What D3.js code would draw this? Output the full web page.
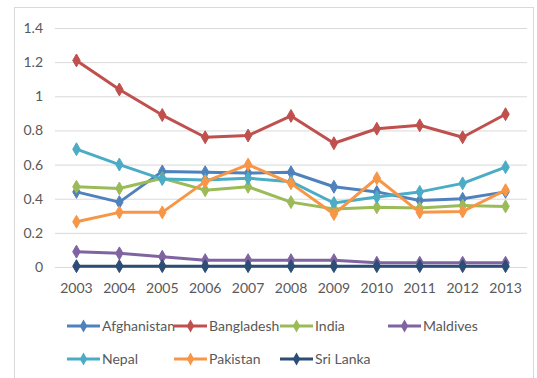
<!DOCTYPE html>
<html><head><meta charset="utf-8">
<script src="https://cdn.jsdelivr.net/npm/d3@7"></script>
<style>body{margin:0;background:#fff}svg{display:block}</style>
</head><body><svg id="c" width="537" height="378"></svg>
<script>
const years = ["2003","2004","2005","2006","2007","2008","2009","2010","2011","2012","2013"];
const seriesNames = ["Afghanistan","Bangladesh","India","Maldives","Nepal","Pakistan","Sri Lanka"];
const afghanistan = [0.44,0.38,0.56,0.555,0.55,0.555,0.47,0.44,0.39,0.40,0.44];
const bangladesh  = [1.21,1.04,0.89,0.76,0.77,0.885,0.725,0.81,0.83,0.76,0.895];
const india       = [0.47,0.46,0.52,0.45,0.47,0.38,0.34,0.35,0.345,0.36,0.355];
const maldives    = [0.09,0.08,0.06,0.04,0.04,0.04,0.04,0.025,0.025,0.025,0.025];
const nepal       = [0.69,0.60,0.515,0.51,0.52,0.50,0.375,0.41,0.44,0.49,0.585];
const pakistan    = [0.265,0.32,0.32,0.50,0.60,0.49,0.31,0.52,0.32,0.325,0.45];
const sriLanka    = [0.005,0.005,0.005,0.005,0.005,0.005,0.005,0.005,0.005,0.005,0.005];
const yTicks = [0,0.2,0.4,0.6,0.8,1,1.2,1.4];
const colors = ["#4F81BD","#C0504D","#9BBB59","#8064A2","#4BACC6","#F79646","#2C4D75"];
const values = [afghanistan,bangladesh,india,maldives,nepal,pakistan,sriLanka];

const svg = d3.select("#c");
const font = "Lato, 'Liberation Sans', sans-serif";
const fs = "14px";
svg.append("rect").attr("x",14.5).attr("y",7.5).attr("width",519).attr("height",372)
  .attr("fill","#fff").attr("stroke","#D9D9D9");

const x = d3.scaleBand().domain(years).range([55,527]);
const y = d3.scaleLinear().domain([0,1.4]).range([267,28]);

const gy = svg.append("g").attr("transform","translate(55,0)")
  .call(d3.axisLeft(y).tickValues(yTicks).tickSize(-472).tickFormat(d3.format("~g")).tickPadding(12));
gy.select(".domain").remove();
gy.selectAll("line").attr("stroke","#D9D9D9");
gy.selectAll("text").attr("fill","#595959").style("font-family",font).style("font-size",fs);

const gx = svg.append("g").attr("transform","translate(0,267)")
  .call(d3.axisBottom(x).tickSize(0).tickPadding(16));
gx.select(".domain").remove();
gx.selectAll("text").attr("fill","#595959").style("font-family",font).style("font-size",fs);

const line = d3.line().x((d,i)=>x(years[i])+x.bandwidth()/2).y(d=>y(d));
const diamond = d3.symbol().type(d3.symbolDiamond).size(48);

values.forEach((vals,k)=>{
  const g = svg.append("g");
  g.append("path").datum(vals).attr("d",line).attr("fill","none")
    .attr("stroke",colors[k]).attr("stroke-width",3).attr("stroke-linejoin","round");
  g.selectAll("path.m").data(vals).enter().append("path").attr("class","m")
    .attr("d",diamond)
    .attr("transform",(d,i)=>`translate(${x(years[i])+x.bandwidth()/2},${y(d)})`)
    .attr("fill",colors[k]).attr("stroke",colors[k]).attr("stroke-width",1);
});

// legend
const legX = [67,174,280,388];
const legY = [326,359];
seriesNames.forEach((name,k)=>{
  const lx = legX[k%4], ly = legY[Math.floor(k/4)];
  const g = svg.append("g").attr("transform",`translate(${lx},${ly})`);
  g.append("line").attr("x1",0).attr("x2",33).attr("y1",0).attr("y2",0)
    .attr("stroke",colors[k]).attr("stroke-width",3);
  g.append("path").attr("d",diamond).attr("transform","translate(16.5,0)").attr("fill",colors[k]);
  g.append("text").attr("x",35).attr("y",5).text(name).attr("fill","#595959")
    .style("font-family",font).style("font-size",fs);
});
</script></body></html>
